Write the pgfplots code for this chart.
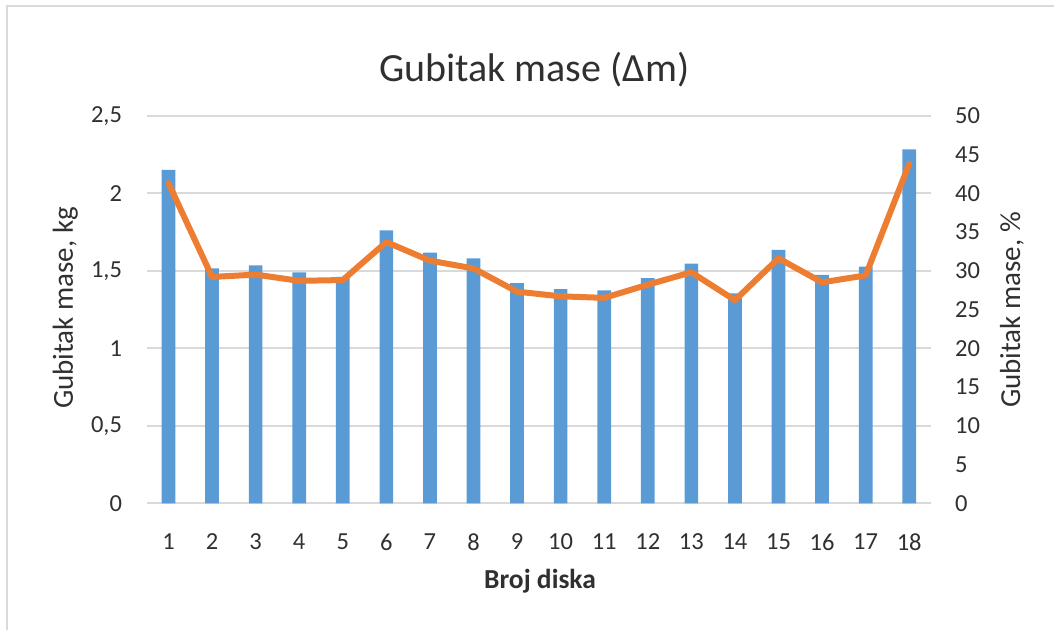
\documentclass[border=0pt]{standalone}
\usepackage{pgfplots}
\pgfplotsset{compat=1.18}
\usepackage{fontspec}
\setmainfont{Carlito}
\definecolor{barblue}{HTML}{5B9BD5}
\definecolor{lineor}{HTML}{ED7D31}
\definecolor{gridg}{HTML}{D9D9D9}
\definecolor{txt}{HTML}{303030}
\begin{document}
\begin{tikzpicture}[x=1pt,y=1pt]
\path[use as bounding box] (0,0) rectangle (1054,630);
\draw[gridg, line width=2pt] (7,0) -- (7,624) -- (1054,624);
\begin{axis}[
  at={(146.7pt,126.7pt)}, anchor=south west,
  scale only axis, width=784.3pt, height=387.6pt,
  xmin=0.5, xmax=18.5, ymin=0, ymax=2.5,
  xtick={1,...,18}, ytick={0,0.5,1,1.5,2,2.5},
  yticklabels={0,{0,5},1,{1,5},2,{2,5}},
  axis x line*=bottom, axis y line*=left,
  axis line style={draw=none}, tick style={draw=none},
  ymajorgrids, grid style={gridg, line width=1.7pt},
  /pgf/number format/assume math mode=true,
  ticklabel style={font=\fontsize{24.5}{28}\selectfont, text=txt},
  yticklabel style={anchor=east, inner sep=0pt, xshift=-24.5pt},
  xticklabel style={anchor=north, inner sep=0pt, yshift=-25.7pt},
  ybar, bar width=13.7pt,
  title={Gubitak mase (Δm)},
  title style={at={(axis description cs:0.494,1.0715)}, anchor=base, font=\fontsize{40}{46}\selectfont, text=txt, inner sep=0pt},
  xlabel={Broj diska},
  xlabel style={at={(axis description cs:0.5015,-0.221)}, anchor=base, font=\bfseries\fontsize{27.5}{32}\selectfont, text=txt, inner sep=0pt},
  ylabel={Gubitak mase, kg},
  ylabel style={at={(axis description cs:-0.094,0.504)}, anchor=base, rotate=0, font=\fontsize{29}{33}\selectfont, text=txt, inner sep=0pt},
]
\addplot[fill=barblue, draw=none] coordinates {
(1,2.15) (2,1.515) (3,1.535) (4,1.49) (5,1.46) (6,1.76) (7,1.617) (8,1.58) (9,1.42)
(10,1.382) (11,1.374) (12,1.453) (13,1.546) (14,1.354) (15,1.634) (16,1.473) (17,1.526) (18,2.283)};
\end{axis}
\begin{axis}[
  at={(146.7pt,126.7pt)}, anchor=south west,
  scale only axis, width=784.3pt, height=387.6pt,
  xmin=0.5, xmax=18.5, ymin=0, ymax=50,
  axis x line=none, axis y line*=right,
  axis line style={draw=none}, tick style={draw=none},
  ytick={0,5,...,50},
  /pgf/number format/assume math mode=true,
  ticklabel style={font=\fontsize{24.5}{28}\selectfont, text=txt},
  yticklabel style={anchor=west, inner sep=0pt, xshift=24pt},
  ylabel={Gubitak mase, \%},
  ylabel style={at={(axis description cs:1.1135,0.499)}, anchor=base, rotate=0, font=\fontsize{29}{33}\selectfont, text=txt, inner sep=0pt},
]
\addplot[lineor, line width=6pt, line join=round, line cap=round, mark=none] coordinates {
(1,41.3) (2,29.2) (3,29.5) (4,28.7) (5,28.8) (6,33.7) (7,31.3) (8,30.3) (9,27.3)
(10,26.7) (11,26.5) (12,28.2) (13,29.8) (14,26.2) (15,31.6) (16,28.5) (17,29.4) (18,43.8)};
\end{axis}
\end{tikzpicture}
\end{document}
